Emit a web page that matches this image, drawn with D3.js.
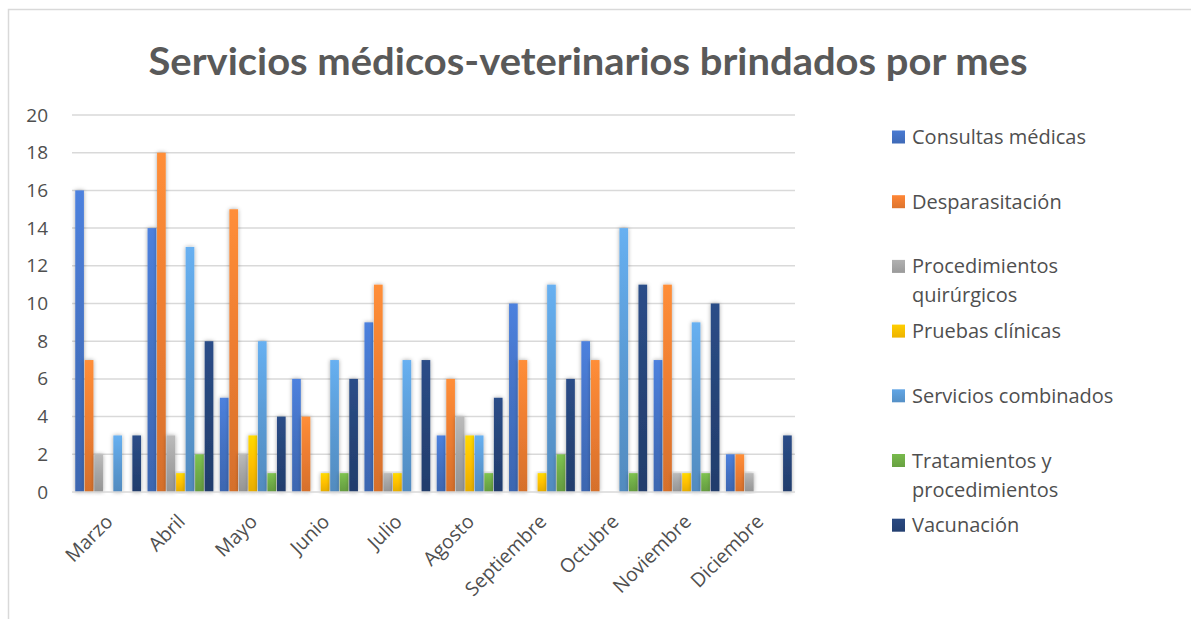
<!DOCTYPE html>
<html>
<head>
<meta charset="utf-8">
<script src="https://cdn.jsdelivr.net/npm/d3@7"></script>
<style>
  html, body { margin: 0; padding: 0; background: #ffffff; }
  svg { display: block; }
  text { font-family: "Open Sans", Lato, sans-serif; fill: #4f4f4f; }
</style>
</head>
<body>
<svg id="chart" width="1191" height="619"></svg>
<script>
// ---- data ----
const title = "Servicios médicos-veterinarios brindados por mes";
const months = ["Marzo", "Abril", "Mayo", "Junio", "Julio", "Agosto", "Septiembre", "Octubre", "Noviembre", "Diciembre"];
const seriesNames = ["Consultas médicas", "Desparasitación", "Procedimientos quirúrgicos", "Pruebas clínicas", "Servicios combinados", "Tratamientos y procedimientos", "Vacunación"];
const consultasMedicas        = [16, 14, 5, 6, 9, 3, 10, 8, 7, 2];
const desparasitacion         = [7, 18, 15, 4, 11, 6, 7, 7, 11, 2];
const procedimientosQuirurg   = [2, 3, 2, 0, 1, 4, 0, 0, 1, 1];
const pruebasClinicas         = [0, 1, 3, 1, 1, 3, 1, 0, 1, 0];
const serviciosCombinados     = [3, 13, 8, 7, 7, 3, 11, 14, 9, 0];
const tratamientosProced      = [0, 2, 1, 1, 0, 1, 2, 1, 1, 0];
const vacunacion              = [3, 8, 4, 6, 7, 5, 6, 11, 10, 3];
const yTicks = [0, 2, 4, 6, 8, 10, 12, 14, 16, 18, 20];
const seriesColors = ["#4472C4", "#ED7D31", "#A5A5A5", "#FFC000", "#5B9BD5", "#70AD47", "#264478"];

const seriesValues = [consultasMedicas, desparasitacion, procedimientosQuirurg, pruebasClinicas, serviciosCombinados, tratamientosProced, vacunacion];
const series = seriesNames.map((name, i) => ({ name, values: seriesValues[i], color: seriesColors[i], idx: i }));

// ---- layout ----
const svg = d3.select("#chart");
const plot = { left: 72, right: 795, top: 115, bottom: 492 };

const defs = svg.append("defs");
series.forEach(s => {
  const g = defs.append("linearGradient").attr("id", "grad" + s.idx)
    .attr("x1", 0).attr("y1", 0).attr("x2", 0).attr("y2", 1);
  g.append("stop").attr("offset", "0%").attr("stop-color", d3.color(s.color).brighter(0.35));
  g.append("stop").attr("offset", "50%").attr("stop-color", s.color);
  g.append("stop").attr("offset", "100%").attr("stop-color", d3.color(s.color).darker(0.3));
  const lg = defs.append("linearGradient").attr("id", "lgrad" + s.idx)
    .attr("x1", 0).attr("y1", 0).attr("x2", 0).attr("y2", 1);
  lg.append("stop").attr("offset", "0%").attr("stop-color", d3.color(s.color).brighter(0.2));
  lg.append("stop").attr("offset", "100%").attr("stop-color", d3.color(s.color).darker(0.2));
});
const shadow = defs.append("filter").attr("id", "shadow")
  .attr("x", "-100%").attr("y", "-10%").attr("width", "300%").attr("height", "120%");
shadow.append("feDropShadow").attr("dx", 0).attr("dy", 0).attr("stdDeviation", 2.2)
  .attr("flood-color", "#000").attr("flood-opacity", 0.35);

// outer border
svg.append("rect").attr("x", 8.5).attr("y", 9.5).attr("width", 1300).attr("height", 800)
  .attr("fill", "none").attr("stroke", "#d9d9d9").attr("stroke-width", 1.5);

// title
svg.append("text").attr("x", 588).attr("y", 75).attr("text-anchor", "middle")
  .attr("font-size", 38).attr("font-weight", 700)
  .style("font-family", "Lato, sans-serif").style("fill", "#595959")
  .attr("textLength", 879).attr("lengthAdjust", "spacingAndGlyphs")
  .text(title);

const x0 = d3.scaleBand().domain(months).range([plot.left, plot.right]).paddingInner(0.09).paddingOuter(0.045);
const x1 = d3.scaleBand().domain(seriesNames).range([0, x0.bandwidth()]).paddingInner(0.09);
const y = d3.scaleLinear().domain([0, 20]).range([plot.bottom, plot.top]);

// gridlines
svg.append("g").selectAll("line").data(yTicks.filter(d => d > 0)).join("line")
  .attr("x1", plot.left).attr("x2", plot.right)
  .attr("y1", d => y(d)).attr("y2", d => y(d))
  .attr("stroke", "#d9d9d9").attr("stroke-width", 1.5);

// y axis
const yAxis = svg.append("g").attr("transform", `translate(${plot.left},0)`)
  .call(d3.axisLeft(y).tickValues(yTicks).tickSize(0).tickPadding(24));
yAxis.select(".domain").remove();
yAxis.selectAll("text").attr("font-size", 19).attr("fill", "#4f4f4f")
  .style("font-family", "'Open Sans', sans-serif");

// bars
const groups = svg.append("g").selectAll("g").data(months).join("g")
  .attr("transform", m => `translate(${x0(m)},0)`);
groups.selectAll("rect")
  .data((m, mi) => series.map(s => ({ s, v: s.values[mi] })).filter(d => d.v > 0))
  .join("rect")
  .attr("x", d => x1(d.s.name))
  .attr("width", x1.bandwidth())
  .attr("y", d => y(d.v))
  .attr("height", d => y(0) - y(d.v))
  .attr("fill", d => `url(#grad${d.s.idx})`)
  .attr("filter", "url(#shadow)");

// x axis
const xAxis = svg.append("g").attr("transform", `translate(0,${plot.bottom})`)
  .call(d3.axisBottom(x0).tickSize(0));
xAxis.select(".domain").attr("stroke", "#d9d9d9").attr("stroke-width", 1.5)
  .attr("d", `M${plot.left},0H${plot.right}`);
xAxis.selectAll("text")
  .attr("font-size", 19.5).attr("fill", "#4f4f4f").style("font-family", "'Open Sans', sans-serif")
  .attr("text-anchor", "end")
  .attr("y", 0).attr("dy", "0.35em")
  .attr("transform", "translate(1,26) rotate(-45)");

// legend
const legend = svg.append("g");
const legStartY = 137, legStep = 64.7, legX = 892, legTextX = 912, lineH = 29, maxW = 236;
series.forEach((s, i) => {
  const cy = legStartY + i * legStep;
  legend.append("rect").attr("x", legX).attr("y", cy - 6.5).attr("width", 13).attr("height", 13)
    .attr("fill", `url(#lgrad${s.idx})`);
  const t = legend.append("text").attr("x", legTextX).attr("y", cy)
    .attr("font-size", 20);
  const words = s.name.split(" ");
  let line = [], lineNo = 0;
  let tspan = t.append("tspan").attr("x", legTextX).attr("y", cy).attr("dy", "0.35em");
  words.forEach(w => {
    line.push(w);
    tspan.text(line.join(" "));
    if (tspan.node().getComputedTextLength() > maxW && line.length > 1) {
      line.pop();
      tspan.text(line.join(" "));
      line = [w];
      lineNo++;
      tspan = t.append("tspan").attr("x", legTextX).attr("y", cy + lineNo * lineH).attr("dy", "0.35em").text(w);
    }
  });
});
</script>
</body>
</html>
